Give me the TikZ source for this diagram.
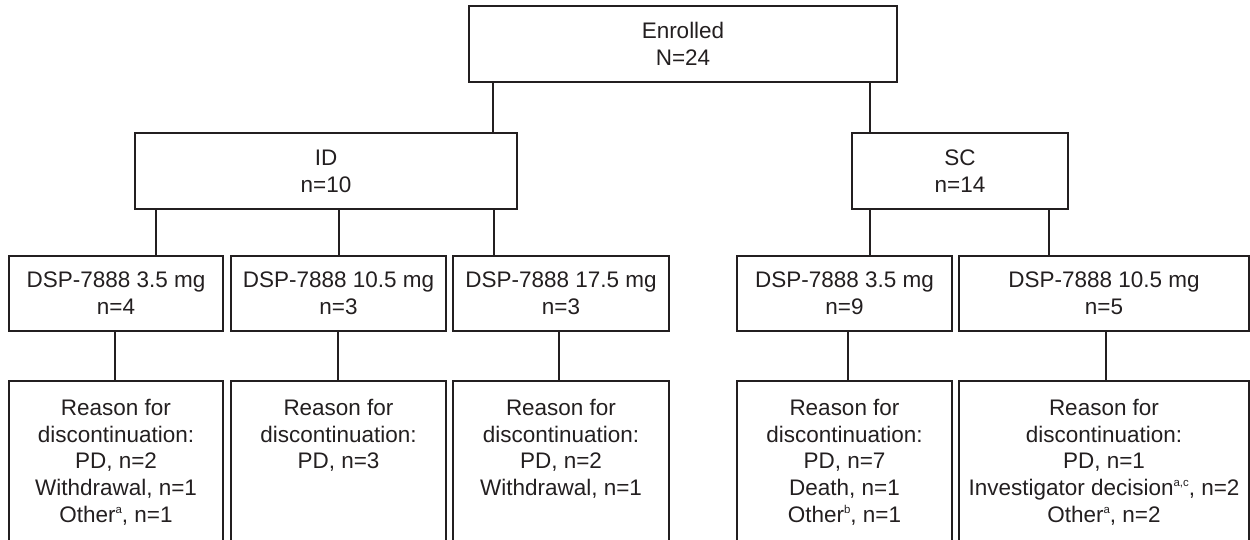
\documentclass[tikz,border=0pt]{standalone}
\usepackage{fontspec}
\setmainfont{Liberation Sans}
\usepackage{xcolor}
\definecolor{traitNoir}{HTML}{231F20}
\usepackage{tikz}
\usetikzlibrary{positioning}
\newcommand{\Exposant}[1]{\raisebox{0.75ex}{\fontsize{6.5}{6.5}\selectfont #1}}
\tikzset{
  %% boxes: one plain weight for every level of the flow
  bloc/.style        = {draw=traitNoir, line width=1.1pt, text=traitNoir,
                        align=center, inner sep=0pt, minimum height=1.5cm,
                        font=\fontsize{12.8}{15.3}\selectfont},
  blocRaison/.style  = {bloc, anchor=north, minimum height=3.6cm},
  texteRaison/.style = {text=traitNoir, align=center, inner sep=0pt,
                        font=\fontsize{12.8}{15.3}\selectfont},
  %% connectors: plain vertical rules, no heads
  liaison/.style     = {draw=traitNoir, line width=1.1pt},
}

\begin{document}
\begin{tikzpicture}[x=0.02cm, y=-0.02cm]
\clip (0,0) rectangle (1250,539);

\node[bloc, minimum width=8.56cm, minimum height=1.52cm] (enrol) at (683,44) {Enrolled\\N=24};

\node[bloc, minimum width=7.64cm, minimum height=1.52cm] (id) at (326,171) {ID\\n=10};
\node[bloc, minimum width=4.32cm, minimum height=1.52cm] (sc) at (960,171) {SC\\n=14};

\node[bloc, minimum width=4.28cm] (dsp1) at (116,293.5)  {DSP-7888 3.5 mg\\n=4};
\node[bloc, minimum width=4.30cm] (dsp2) at (338.5,293.5) {DSP-7888 10.5 mg\\n=3};
\node[bloc, minimum width=4.32cm] (dsp3) at (561,293.5)  {DSP-7888 17.5 mg\\n=3};
\node[bloc, minimum width=4.30cm] (dsp4) at (844.5,293.5) {DSP-7888 3.5 mg\\n=9};
\node[bloc, minimum width=5.80cm] (dsp5) at (1104,293.5) {DSP-7888 10.5 mg\\n=5};

\node[blocRaison, minimum width=4.28cm] (raison1) at (116,380)   {};
\node[blocRaison, minimum width=4.30cm] (raison2) at (338.5,380) {};
\node[blocRaison, minimum width=4.32cm] (raison3) at (561,380)   {};
\node[blocRaison, minimum width=4.30cm] (raison4) at (844.5,380) {};
\node[blocRaison, minimum width=5.80cm] (raison5) at (1104,380)  {};

\node[texteRaison, below=0.37cm of raison1.north] (motif1)
     {Reason for\\discontinuation:\\PD, n=2\\Withdrawal, n=1\\Other\Exposant{a}, n=1};
\node[texteRaison, below=0.37cm of raison2.north] (motif2)
     {Reason for\\discontinuation:\\PD, n=3};
\node[texteRaison, below=0.37cm of raison3.north] (motif3)
     {Reason for\\discontinuation:\\PD, n=2\\Withdrawal, n=1};
\node[texteRaison, below=0.37cm of raison4.north] (motif4)
     {Reason for\\discontinuation:\\PD, n=7\\Death, n=1\\Other\Exposant{b}, n=1};
\node[texteRaison, below=0.37cm of raison5.north] (motif5)
     {Reason for\\discontinuation:\\PD, n=1\\Investigator decision\Exposant{a,c}, n=2\\Other\Exposant{a}, n=2};

\draw[liaison] (enrol.south -| 493,0) -- (id.north -| 493,0);
\draw[liaison] (enrol.south -| 870,0) -- (sc.north -| 870,0);

\draw[liaison] (id.south -| 156,0) -- (dsp1.north -| 156,0);
\draw[liaison] (id.south -| 339,0) -- (dsp2.north -| 339,0);
\draw[liaison] (id.south -| 494,0) -- (dsp3.north -| 494,0);
\draw[liaison] (sc.south -| 870,0) -- (dsp4.north -| 870,0);
\draw[liaison] (sc.south -| 1049,0) -- (dsp5.north -| 1049,0);

\draw[liaison] (dsp1.south -| 115,0) -- (raison1.north -| 115,0);
\draw[liaison] (dsp2.south -| 338,0) -- (raison2.north -| 338,0);
\draw[liaison] (dsp3.south -| 559,0) -- (raison3.north -| 559,0);
\draw[liaison] (dsp4.south -| 848,0) -- (raison4.north -| 848,0);
\draw[liaison] (dsp5.south -| 1106,0) -- (raison5.north -| 1106,0);

\end{tikzpicture}
\end{document}
